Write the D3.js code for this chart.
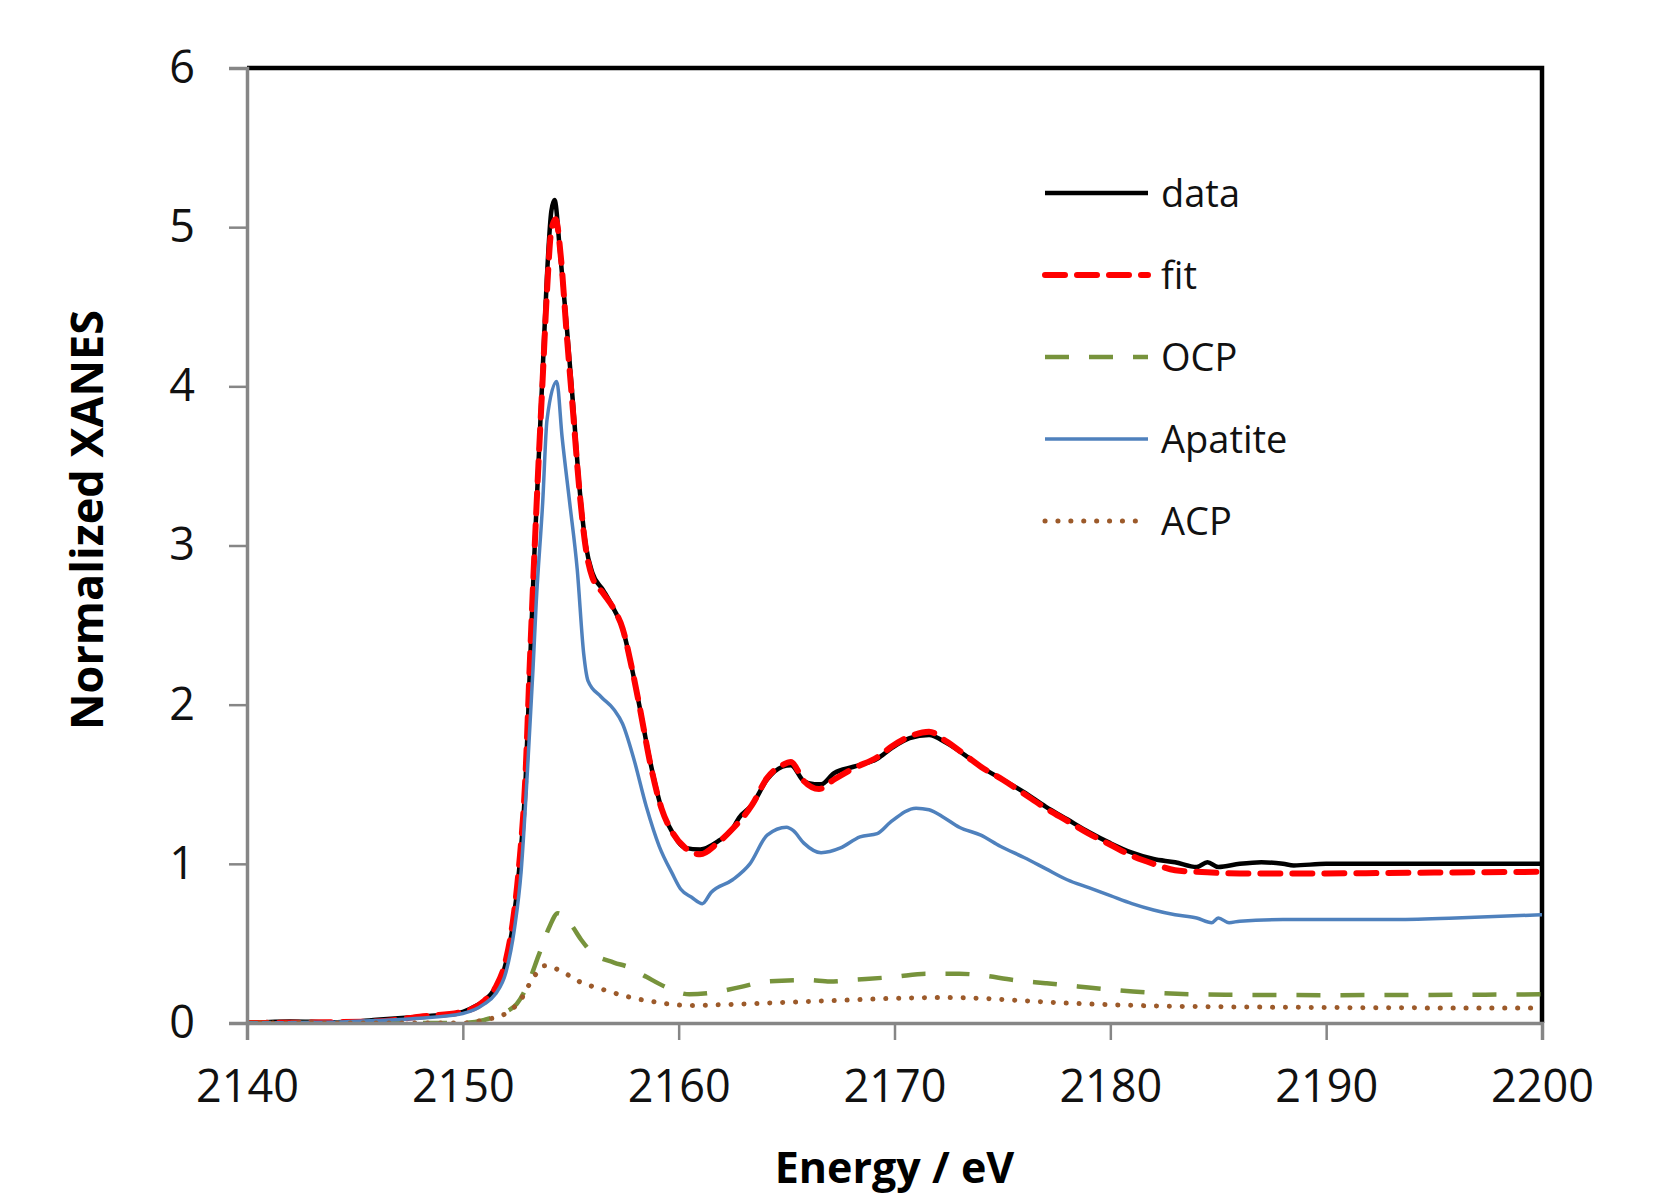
<!DOCTYPE html>
<html>
<head>
<meta charset="utf-8">
<script src="https://cdn.jsdelivr.net/npm/d3@7"></script>
<style>
  body { margin: 0; background: #fff; }
  svg { display: block; }
</style>
</head>
<body>
<svg id="chart" width="1669" height="1201"></svg>
<script>
// values, [energy eV, normalized XANES]
const dataSeries = [
  [2140, 0.0], [2142, 0.01], [2144, 0.005], [2145, 0.01], [2146, 0.02], [2147, 0.03], [2148, 0.04],
  [2149, 0.05], [2150, 0.07], [2150.5, 0.1], [2151, 0.14], [2151.5, 0.22], [2152, 0.38], [2152.3, 0.6],
  [2152.6, 0.95], [2152.9, 1.5], [2153.1, 2.2], [2153.3, 2.9], [2153.5, 3.5], [2153.7, 4.1], [2153.9, 4.7],
  [2154.1, 5.1], [2154.25, 5.17], [2154.5, 4.85], [2154.8, 4.4], [2155.1, 3.9], [2155.4, 3.37], [2155.7, 3.0],
  [2156.0, 2.83], [2156.5, 2.72], [2157.0, 2.6], [2157.4, 2.48], [2157.8, 2.25], [2158.2, 1.98], [2158.7, 1.63],
  [2159.2, 1.35], [2159.7, 1.2], [2160.3, 1.1], [2161.0, 1.09], [2161.8, 1.14], [2162.5, 1.22], [2162.8, 1.29],
  [2163.4, 1.37], [2164.1, 1.53], [2164.8, 1.61], [2165.2, 1.62], [2165.8, 1.52], [2166.3, 1.5], [2166.6, 1.5],
  [2167.2, 1.57], [2168.1, 1.61], [2169.2, 1.66], [2169.9, 1.73], [2170.7, 1.79], [2171.6, 1.81], [2172.4, 1.76],
  [2173.4, 1.67], [2174, 1.61], [2175, 1.53], [2176, 1.45], [2177, 1.36], [2178, 1.28], [2179, 1.2],
  [2180, 1.13], [2181, 1.07], [2182, 1.03], [2183, 1.01], [2184, 0.98], [2184.5, 1.01], [2185, 0.98],
  [2186, 1.0], [2187, 1.01], [2188, 1.0], [2188.5, 0.99], [2190, 1.0], [2195, 1.0], [2200, 1.0]
];

const fitSeries = [
  [2140, 0.0], [2146, 0.01], [2148, 0.04], [2150, 0.07], [2151, 0.14], [2151.5, 0.22], [2152, 0.4],
  [2152.3, 0.62], [2152.6, 0.98], [2152.9, 1.55], [2153.1, 2.25], [2153.3, 2.9], [2153.5, 3.5], [2153.7, 4.05],
  [2153.9, 4.6], [2154.1, 4.98], [2154.3, 5.05], [2154.55, 4.8], [2154.8, 4.35], [2155.1, 3.85], [2155.4, 3.35],
  [2155.7, 2.98], [2156.0, 2.8], [2156.5, 2.7], [2157.0, 2.6], [2157.4, 2.48], [2157.8, 2.25], [2158.2, 1.98],
  [2158.7, 1.62], [2159.2, 1.35], [2159.7, 1.2], [2160.3, 1.1], [2161.0, 1.06], [2161.8, 1.13], [2162.5, 1.22],
  [2163.4, 1.37], [2164.1, 1.54], [2164.8, 1.62], [2165.2, 1.64], [2165.8, 1.52], [2166.5, 1.47], [2167.2, 1.53],
  [2168.1, 1.6], [2169.2, 1.67], [2169.9, 1.74], [2170.7, 1.8], [2171.6, 1.83], [2172.4, 1.77], [2173.4, 1.67],
  [2174, 1.61], [2175, 1.53], [2176, 1.44], [2177, 1.35], [2178, 1.27], [2179, 1.19], [2180, 1.12],
  [2181, 1.05], [2182, 1.0], [2183, 0.96], [2184, 0.95], [2186, 0.94], [2190, 0.94], [2195, 0.945], [2200, 0.95]
];

const ocpSeries = [
  [2140, 0.0], [2150, 0.0], [2151, 0.02], [2152, 0.07], [2152.5, 0.12], [2153, 0.24], [2153.5, 0.42],
  [2154, 0.6], [2154.4, 0.69], [2155, 0.62], [2155.5, 0.52], [2156, 0.44], [2157, 0.38], [2157.7, 0.35],
  [2158.5, 0.29], [2159.5, 0.22], [2160.5, 0.18], [2161.5, 0.19], [2163, 0.23], [2164, 0.26], [2166, 0.27],
  [2167, 0.26], [2168, 0.27], [2170, 0.29], [2171.5, 0.31], [2173, 0.31], [2174, 0.3], [2175.5, 0.27],
  [2177, 0.25], [2178.5, 0.23], [2180, 0.21], [2182, 0.19], [2184, 0.18], [2190, 0.175], [2200, 0.18]
];

const apatiteSeries = [
  [2140, 0.0], [2144, 0.005], [2146, 0.015], [2148, 0.03], [2150, 0.06], [2151, 0.12], [2151.5, 0.18],
  [2152, 0.32], [2152.4, 0.6], [2152.7, 0.95], [2153.0, 1.6], [2153.25, 2.22], [2153.4, 2.64], [2153.7, 3.27],
  [2153.9, 3.79], [2154.35, 4.03], [2154.6, 3.68], [2154.95, 3.27], [2155.3, 2.85], [2155.6, 2.32], [2155.8, 2.15],
  [2156.4, 2.05], [2157.0, 1.97], [2157.4, 1.88], [2157.9, 1.67], [2158.5, 1.36], [2159.1, 1.11], [2159.7, 0.94],
  [2160.1, 0.84], [2160.6, 0.79], [2161.1, 0.75], [2161.5, 0.82], [2162.5, 0.9], [2163.3, 1.0], [2164.1, 1.18],
  [2165.0, 1.23], [2165.3, 1.21], [2165.8, 1.13], [2166.6, 1.07], [2167.5, 1.1], [2168.4, 1.17], [2169.2, 1.19],
  [2169.8, 1.26], [2171.0, 1.35], [2171.6, 1.34], [2172.3, 1.29], [2173.0, 1.23], [2174.0, 1.18], [2174.9, 1.11],
  [2176, 1.04], [2177, 0.97], [2178, 0.9], [2179, 0.85], [2180, 0.8], [2181, 0.75], [2182, 0.71],
  [2183, 0.68], [2184, 0.66], [2184.7, 0.63], [2185, 0.66], [2185.5, 0.63], [2186, 0.64], [2188, 0.65],
  [2190, 0.65], [2193, 0.65], [2196, 0.66], [2200, 0.68]
];

const acpSeries = [
  [2140, 0.0], [2150, 0.0], [2151, 0.02], [2152, 0.06], [2152.7, 0.15], [2153.2, 0.27], [2153.8, 0.36],
  [2154.5, 0.33], [2155.4, 0.26], [2156.5, 0.21], [2157.8, 0.16], [2159, 0.13], [2160.5, 0.11], [2162, 0.115],
  [2165, 0.13], [2168, 0.145], [2170, 0.155], [2172, 0.16], [2174, 0.155], [2176, 0.14], [2178, 0.125],
  [2180, 0.115], [2183, 0.105], [2187, 0.1], [2195, 0.095], [2200, 0.095]
];

const xTicks = [2140, 2150, 2160, 2170, 2180, 2190, 2200];
const yTicks = [0, 1, 2, 3, 4, 5, 6];

const series = [
  { name: "data", values: dataSeries, color: "#000000", width: 4.5, dash: null, cap: "butt" },
  { name: "fit", values: fitSeries, color: "#ff0000", width: 6, dash: "20,12", cap: "round" },
  { name: "OCP", values: ocpSeries, color: "#77933c", width: 4.5, dash: "24,20", cap: "butt" },
  { name: "Apatite", values: apatiteSeries, color: "#4f81bd", width: 3.5, dash: null, cap: "butt" },
  { name: "ACP", values: acpSeries, color: "#9c5a2a", width: 5, dash: "0.1,12.8", cap: "round" }
];

const svg = d3.select("#chart");
const margin = { left: 247, right: 127, top: 68, bottom: 178 };
const width = 1669, height = 1201;

const x = d3.scaleLinear().domain([2140, 2200]).range([margin.left, width - margin.right]);
const y = d3.scaleLinear().domain([0, 6]).range([height - margin.bottom, margin.top]);

svg.append("rect").attr("width", width).attr("height", height).attr("fill", "#fff");

svg.append("defs").append("clipPath").attr("id", "plot")
  .append("rect")
  .attr("x", x(2140)).attr("y", y(6))
  .attr("width", x(2200) - x(2140)).attr("height", y(0) - y(6));

// top/right frame
svg.append("path")
  .attr("d", `M${x(2140)},${y(6)}H${x(2200)}V${y(0)}`)
  .attr("fill", "none")
  .attr("stroke", "#000")
  .attr("stroke-width", 4.5);

const line = d3.line()
  .x(d => x(d[0]))
  .y(d => y(d[1]))
  .curve(d3.curveMonotoneX);

svg.append("g").attr("clip-path", "url(#plot)")
  .selectAll("path")
  .data(series)
  .join("path")
  .attr("d", d => line(d.values))
  .attr("fill", "none")
  .attr("stroke", d => d.color)
  .attr("stroke-width", d => d.width)
  .attr("stroke-dasharray", d => d.dash)
  .attr("stroke-linecap", d => d.cap)
  .attr("stroke-linejoin", "round");

// axes
const xAxis = svg.append("g")
  .attr("transform", `translate(0,${y(0)})`)
  .call(d3.axisBottom(x).tickValues(xTicks).tickSize(17).tickPadding(30).tickFormat(d3.format("d")));
const yAxis = svg.append("g")
  .attr("transform", `translate(${x(2140)},0)`)
  .call(d3.axisLeft(y).tickValues(yTicks).tickSize(18).tickPadding(34).tickFormat(d3.format("d")));

[xAxis, yAxis].forEach(g => {
  g.select(".domain").attr("stroke", "#868686").attr("stroke-width", 3.5);
  g.selectAll(".tick line").attr("stroke", "#868686").attr("stroke-width", 2.5);
  g.selectAll(".tick text")
    .attr("fill", "#111")
    .style("font-family", "'Open Sans', sans-serif")
    .style("font-size", "45px");
});

svg.append("text")
  .attr("x", (x(2140) + x(2200)) / 2)
  .attr("y", 1183)
  .attr("text-anchor", "middle")
  .style("font-family", "'Open Sans', sans-serif")
  .style("font-weight", "bold")
  .style("font-size", "43px")
  .text("Energy / eV");

svg.append("text")
  .attr("transform", "translate(103,520) rotate(-90)")
  .attr("text-anchor", "middle")
  .style("font-family", "'Open Sans', sans-serif")
  .style("font-weight", "bold")
  .style("font-size", "45px")
  .text("Normalized XANES");

// legend
const legend = svg.append("g").selectAll("g")
  .data(series)
  .join("g")
  .attr("transform", (d, i) => `translate(1045,${193 + i * 82})`);

legend.append("line")
  .attr("x1", 0).attr("x2", 103)
  .attr("stroke", d => d.color)
  .attr("stroke-width", d => d.width)
  .attr("stroke-dasharray", d => d.dash)
  .attr("stroke-linecap", d => d.cap);

legend.append("text")
  .attr("x", 116)
  .attr("dy", "0.36em")
  .style("font-family", "'Open Sans', sans-serif")
  .style("font-size", "38px")
  .attr("fill", "#111")
  .text(d => d.name);
</script>
</body>
</html>
